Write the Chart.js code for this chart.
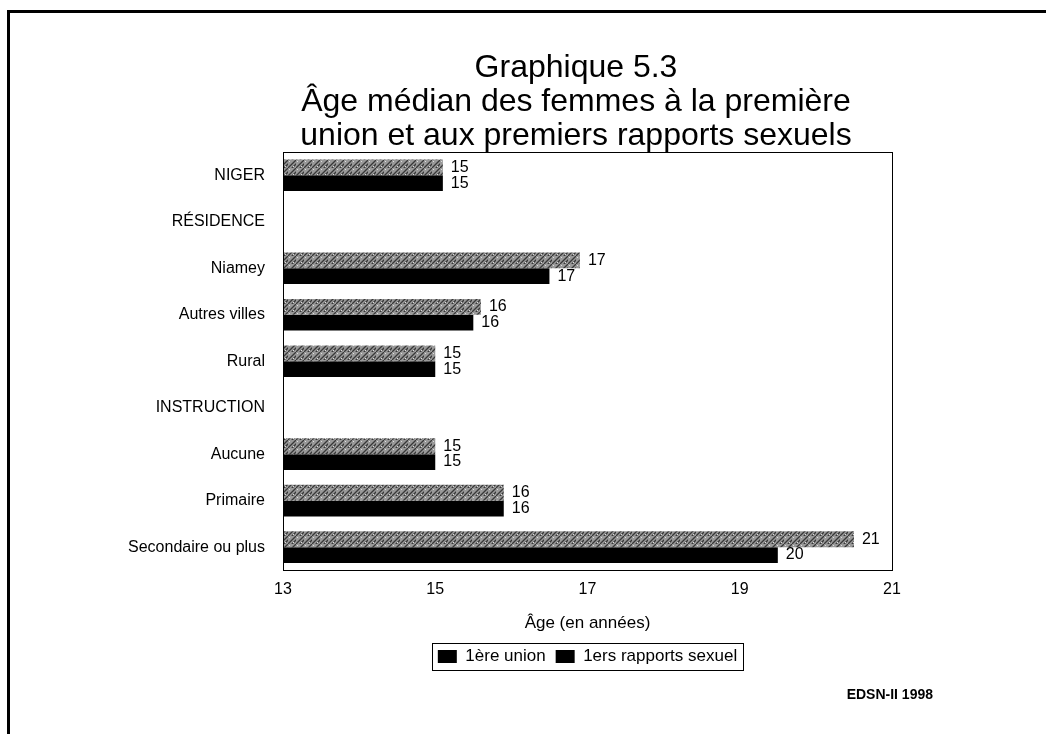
<!DOCTYPE html>
<html>
<head>
<meta charset="utf-8">
<script src="https://cdn.jsdelivr.net/npm/chart.js@4/dist/chart.umd.min.js"></script>
<style>
  html, body { margin: 0; padding: 0; background: #fff; }
  #wrap { width: 1046px; height: 734px; }
</style>
</head>
<body>
<div id="wrap"><canvas id="chart" width="1046" height="734"></canvas></div>
<script>
// Data (median age, years)
const categories = ['NIGER', 'RÉSIDENCE', 'Niamey', 'Autres villes', 'Rural',
                    'INSTRUCTION', 'Aucune', 'Primaire', 'Secondaire ou plus'];
const unionValues = [15.1, null, 16.9, 15.6, 15.0, null, 15.0, 15.9, 20.5];
const rapportsValues = [15.1, null, 16.5, 15.5, 15.0, null, 15.0, 15.9, 19.5];
const unionLabels = ['15', '', '17', '16', '15', '', '15', '16', '21'];
const rapportsLabels = ['15', '', '17', '16', '15', '', '15', '16', '20'];
const seriesNames = ['1ère union', '1ers rapports sexuel'];
const titleLines = ['Graphique 5.3', 'Âge médian des femmes à la première', 'union et aux premiers rapports sexuels'];
const xTicks = [13, 15, 17, 19, 21];
const sourceText = 'EDSN-II 1998';

const FONT = "'Liberation Sans', Arial, sans-serif";
Chart.defaults.font.family = FONT;
Chart.defaults.color = '#000';

// Grainy grey hatch, like the scanned print
function makeHatch() {
    const c = document.createElement('canvas');
    c.width = 8; c.height = 8;
    const g = c.getContext('2d');
    g.fillStyle = '#999999';
    g.fillRect(0, 0, 8, 8);
    g.strokeStyle = '#383838';
    g.lineWidth = 1.3;
    g.beginPath();
    g.moveTo(-2, 10); g.lineTo(10, -2);
    g.moveTo(2, 10); g.lineTo(10, 2);
    g.stroke();
    g.fillStyle = '#dddddd';
    g.fillRect(1, 1, 1, 1);
    g.fillRect(5, 6, 1, 1);
    return g.createPattern(c, 'repeat');
}

// Frame, title, plot box, value labels and source note
const extras = {
    id: 'extras',
    afterDatasetsDraw(chart) {
        const ctx = chart.ctx;
        const a = chart.chartArea;
        ctx.save();
        ctx.strokeStyle = '#000';
        ctx.lineWidth = 1;
        ctx.strokeRect(Math.round(a.left) + 0.5, Math.round(a.top) + 0.5,
                       Math.round(a.right - a.left), Math.round(a.bottom - a.top));

        ctx.font = '16px ' + FONT;
        ctx.fillStyle = '#000';
        ctx.textBaseline = 'middle';
        ctx.textAlign = 'left';
        const lbls = [unionLabels, rapportsLabels];
        chart.data.datasets.forEach((ds, di) => {
            chart.getDatasetMeta(di).data.forEach((bar, i) => {
                if (ds.data[i] == null) return;
                ctx.fillText(lbls[di][i], bar.x + 8, bar.y);
            });
        });
        ctx.restore();
    },
    afterDraw(chart) {
        const ctx = chart.ctx;
        ctx.save();
        // outer frame (only top and left edges show in the scan)
        ctx.fillStyle = '#000';
        ctx.fillRect(7, 10, 1046, 3);
        ctx.fillRect(7, 10, 3, 734);

        // title, centred a little left of the plot
        ctx.font = '32px ' + FONT;
        ctx.textAlign = 'center';
        ctx.textBaseline = 'middle';
        titleLines.forEach((line, i) => ctx.fillText(line, 576, 68 + i * 34));

        // box round the legend
        const hb = chart.legend.legendHitBoxes;
        if (hb && hb.length) {
            const l = hb[0].left - 6;
            const last = hb[hb.length - 1];
            const r = last.left + last.width + 6;
            const t = hb[0].top - 5;
            const b = hb[0].top + hb[0].height + 5;
            ctx.strokeStyle = '#000';
            ctx.lineWidth = 1;
            ctx.strokeRect(Math.round(l) + 0.5, Math.round(t) + 0.5, Math.round(r - l), Math.round(b - t));
        }

        ctx.font = 'bold 14px ' + FONT;
        ctx.textAlign = 'right';
        ctx.fillText(sourceText, 933, 695);
        ctx.restore();
    }
};

const ctx = document.getElementById('chart').getContext('2d');
new Chart(ctx, {
    type: 'bar',
    data: {
        labels: categories,
        datasets: [
            {
                label: seriesNames[0],
                data: unionValues,
                backgroundColor: makeHatch(),
                categoryPercentage: 0.68,
                barPercentage: 1.0
            },
            {
                label: seriesNames[1],
                data: rapportsValues,
                backgroundColor: '#000',
                categoryPercentage: 0.68,
                barPercentage: 1.0
            }
        ]
    },
    options: {
        indexAxis: 'y',
        responsive: false,
        animation: false,
        layout: { padding: { top: 152, left: 0, right: 154, bottom: 59 } },
        plugins: {
            title: { display: false },
            legend: {
                position: 'bottom',
                fullSize: false,
                labels: {
                    font: { size: 17 },
                    boxWidth: 19,
                    boxHeight: 13,
                    padding: 10,
                    generateLabels(chart) {
                        return chart.data.datasets.map((ds, i) => ({
                            text: ds.label,
                            fillStyle: '#000',
                            strokeStyle: '#000',
                            lineWidth: 0,
                            datasetIndex: i
                        }));
                    }
                }
            },
            tooltip: { enabled: false }
        },
        scales: {
            x: {
                min: 13,
                max: 21,
                grid: { display: false, drawTicks: false },
                border: { display: false },
                afterBuildTicks(scale) {
                    scale.ticks = xTicks.map(v => ({ value: v }));
                },
                ticks: { padding: 10, font: { size: 16 } },
                title: {
                    display: true,
                    text: 'Âge (en années)',
                    font: { size: 17 },
                    padding: { top: 4, bottom: 4 }
                }
            },
            y: {
                grid: { display: false, drawTicks: false },
                border: { display: false },
                ticks: { padding: 18, font: { size: 16 } },
                afterFit(scale) { scale.width = 283; }
            }
        }
    },
    plugins: [extras]
});
</script>
</body>
</html>
